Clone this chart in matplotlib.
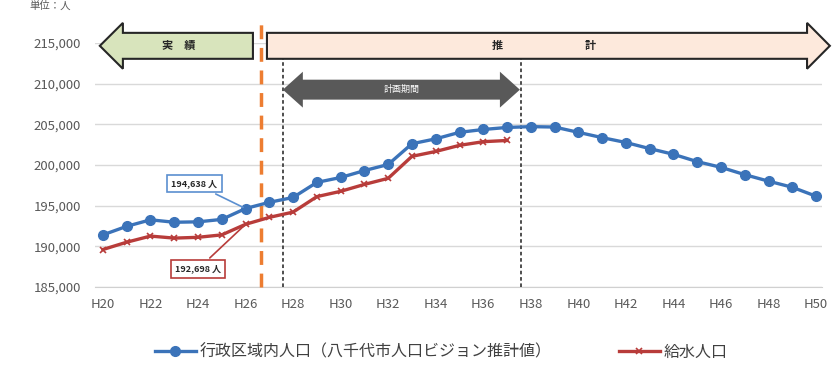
import numpy as np
import matplotlib.pyplot as plt
from matplotlib.patches import Polygon

plt.rcParams['font.family'] = ['Noto Sans CJK JP', 'DejaVu Sans']

# data
years_admin = np.arange(20, 51)
pop_admin = [191400, 192450, 193250, 192950, 193000, 193300, 194638, 195400, 196000,
             197850, 198450, 199300, 200050, 202600, 203200, 204000, 204350, 204600,
             204700, 204650, 204000, 203350, 202750, 202000, 201300, 200400, 199700,
             198800, 198000, 197250, 196150]
years_supply = np.arange(20, 38)
pop_supply = [189600, 190500, 191250, 191000, 191100, 191400, 192698, 193550, 194200,
              196100, 196750, 197600, 198350, 201050, 201650, 202400, 202850, 203000]
tick_years = np.arange(20, 51, 2)
tick_labels = ['H%d' % y for y in tick_years]
yticks = np.arange(185000, 215001, 5000)

blue = '#3b73b9'
red = '#b83c3a'

fig = plt.figure(figsize=(8.32, 3.66), dpi=100)
ax = fig.add_axes([0.114, 0.216, 0.874, 0.667])

ax.plot(years_admin, pop_admin, color=blue, lw=2.4, marker='o', ms=7, zorder=4,
        label='行政区域内人口（八千代市人口ビジョン推計値）')
ax.plot(years_supply, pop_supply, color=red, lw=2.4, marker='x', ms=5, mew=1.2, zorder=4,
        label='給水人口')

ax.set_xlim(19.66, 50.25)
ax.set_ylim(185000, 215000)
ax.set_xticks(tick_years)
ax.set_xticklabels(tick_labels)
ax.set_yticks(yticks)
ax.set_yticklabels(['{:,}'.format(v) for v in yticks])
ax.tick_params(length=0, labelsize=9.5, colors='#595959')
ax.tick_params(axis='y', pad=10)
ax.tick_params(axis='x', pad=8)
ax.grid(axis='y', color='#d9d9d9', lw=1)
ax.set_axisbelow(True)
for s in ['top', 'right', 'left']:
    ax.spines[s].set_visible(False)
ax.spines['bottom'].set_color('#d0d0d0')

# vertical markers
ax.plot([26.65, 26.65], [185000, 217450], color='#ed7d31', lw=2.5, ls=(0, (4, 2.5)),
        clip_on=False, zorder=3)
for xv in [27.57, 37.58]:
    ax.plot([xv, xv], [185000, 213200], color='#404040', lw=1.3, ls=(0, (2, 1.5)),
            clip_on=False, zorder=3)

# top arrows
green = Polygon([(19.87, 214630), (20.84, 217450), (20.84, 216225), (26.31, 216225),
                 (26.31, 213035), (20.84, 213035), (20.84, 211810)],
                closed=True, fc='#d8e4bc', ec='#262626', lw=1.5, clip_on=False, zorder=5)
ax.add_patch(green)
pink = Polygon([(26.90, 216225), (49.62, 216225), (49.62, 217450), (50.58, 214630),
                (49.62, 211810), (49.62, 213035), (26.90, 213035)],
               closed=True, fc='#fde9dc', ec='#262626', lw=1.5, clip_on=False, zorder=5)
ax.add_patch(pink)
gray = Polygon([(27.57, 209240), (28.41, 211450), (28.41, 210470), (36.70, 210470),
                (36.70, 211450), (37.54, 209240), (36.70, 207040), (36.70, 208020),
                (28.41, 208020), (28.41, 207040)],
               closed=True, fc='#595959', ec='none', clip_on=False, zorder=5)
ax.add_patch(gray)
ax.text(23.2, 214630, '実　績', ha='center', va='center', fontsize=8, fontweight='bold',
        color='#262626', zorder=6)
ax.text(36.6, 214630, '推', ha='center', va='center', fontsize=8, fontweight='bold',
        color='#262626', zorder=6)
ax.text(40.5, 214630, '計', ha='center', va='center', fontsize=8, fontweight='bold',
        color='#262626', zorder=6)
ax.text(32.55, 209240, '計画期間', ha='center', va='center', fontsize=6.5,
        color='white', zorder=6)

# callouts
ax.annotate('194,638 人', xy=(26, 194638), xytext=(23.85, 197700),
            ha='center', va='center', fontsize=6.5, fontweight='bold', color='#262626',
            bbox=dict(boxstyle='square,pad=0.45', fc='white', ec='#5b8fd0', lw=1.2),
            arrowprops=dict(arrowstyle='-', color='#5b8fd0', lw=1.2), zorder=6)
ax.annotate('192,698 人', xy=(26, 192698), xytext=(24.0, 187200),
            ha='center', va='center', fontsize=6.5, fontweight='bold', color='#262626',
            bbox=dict(boxstyle='square,pad=0.45', fc='white', ec='#b83c3a', lw=1.2),
            arrowprops=dict(arrowstyle='-', color='#b83c3a', lw=1.2), zorder=6)

fig.text(0.035, 0.998, '単位：人', fontsize=7.5, color='#595959', va='top')

fig.legend(loc='center', bbox_to_anchor=(0.53, 0.038), ncol=2, frameon=False,
           fontsize=11.5, handlelength=2.6, handletextpad=0.2, columnspacing=4.2,
           labelcolor='#404040')

fig.savefig('out.png', dpi=100)
